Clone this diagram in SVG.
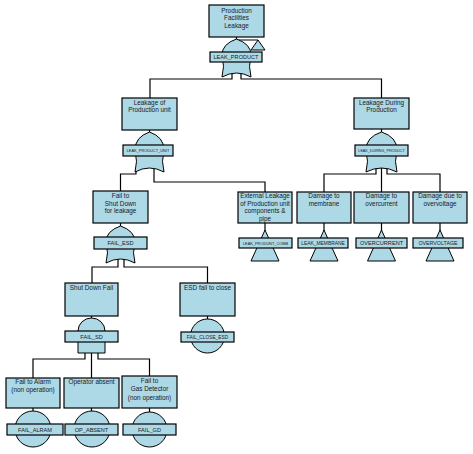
<svg xmlns="http://www.w3.org/2000/svg" width="473" height="454" viewBox="0 0 473 454">
<style>
.box{fill:#ADD8E6;stroke:#000;stroke-width:1.2}
.gate{fill:#ADD8E6;stroke:#000;stroke-width:1}
.lbl{fill:#ADD8E6;stroke:#000;stroke-width:1.2}
.conn{fill:none;stroke:#000;stroke-width:1.2}
text{font-family:"Liberation Sans",Arial,sans-serif;fill:#1a1a1a;text-anchor:middle}
.t{font-size:6.4px}
.g{font-size:5.6px}
</style>
<rect width="473" height="454" fill="#fff"/>
<g id="connectors" class="conn">
<path d="M236.5,37V40M236.5,40H258"/>
<path d="M232,73V79H150V98M241,73V79H381.5V98"/>
<path d="M149.5,130V132M381.5,129V132"/>
<path d="M136,171V174H120.5V191M154,169V182H265V192"/>
<path d="M376,168V174H324V192M381.5,168V192M387,168V174H440V192"/>
<path d="M120.5,223V226"/>
<path d="M118,259V267H92V283M124,259V267H207.5V283"/>
<path d="M265,223V231M324,223V231M381.5,223V231M440,223V231"/>
<path d="M91.5,316V318M207.5,316V319"/>
<path d="M85,353V359H33V378M91.5,353V378M98,353V359H149.5V376"/>
<path d="M33,408V411M91.5,408V411M149.5,408V412"/>
</g>
<g id="n_top">
<rect class="box" x="209" y="5" width="55" height="32"/>
<text class="t" x="236.5" y="12.5">Production</text>
<text class="t" x="236.5" y="20">Facilities</text>
<text class="t" x="236.5" y="27.5">Leakage</text>
<path class="gate" d="M222,77Q236.5,69 251,77Q248,67 251,55Q251,44 236.5,39Q222,44 222,55Q225,67 222,77Z"/>
<polygon class="gate" points="258,40 251,50 265,50"/>
<rect class="lbl" x="210" y="52" width="52" height="10"/>
<text class="g" x="236" y="59.2">LEAK_PRODUCT</text>
</g>
<g id="n_lpu">
<rect class="box" x="122" y="98" width="55" height="32"/>
<text class="t" x="149.5" y="104.5">Leakage of</text>
<text class="t" x="149.5" y="112">Production unit</text>
<path class="gate" d="M135,172Q149.5,164 164,172Q161,162 164,150Q164,137 149.5,132Q135,137 135,150Q138,162 135,172Z"/>
<rect class="lbl" x="123" y="145" width="50" height="11"/>
<text x="148" y="151.8" style="font-size:3.9px">LEAK_PRODUCT_UNIT</text>
</g>
<g id="n_ldp">
<rect class="box" x="354" y="98" width="55" height="31"/>
<text class="t" x="381.5" y="105">Leakage During</text>
<text class="t" x="381.5" y="112">Production</text>
<path class="gate" d="M366,172Q381.5,164 397,172Q394,162 397,150Q397,137 381.5,132Q366,137 366,150Q369,162 366,172Z"/>
<rect class="lbl" x="355" y="145" width="53" height="11"/>
<text x="381.5" y="151.8" style="font-size:3.7px">LEAK_DURING_PRODUCT</text>
</g>
<g id="n_fesd">
<rect class="box" x="93" y="191" width="55" height="32"/>
<text class="t" x="120.5" y="198">Fail to</text>
<text class="t" x="120.5" y="205.5">Shut Down</text>
<text class="t" x="120.5" y="213">for leakage</text>
<path class="gate" d="M106,263Q120.5,255 135,263Q132,253 135,242Q135,231 120.5,226Q106,231 106,242Q109,253 106,263Z"/>
<rect class="lbl" x="94" y="237" width="53" height="12"/>
<text class="g" x="120.5" y="245">FAIL_ESD</text>
</g>
<g id="n_ext">
<rect class="box" x="238" y="192" width="54" height="31"/>
<text class="t" x="265" y="198">External Leakage</text>
<text class="t" x="265" y="205.5">of Production unit</text>
<text class="t" x="265" y="213">components &amp;</text>
<text class="t" x="265" y="220.5">pipe</text>
<polygon class="gate" points="265,230 251,261 279,261"/>
<rect class="lbl" x="239" y="238" width="53" height="10"/>
<text x="265.5" y="244.6" style="font-size:3.9px">LEAK_PRODUNT_COMB</text>
</g>
<g id="n_mem">
<rect class="box" x="297" y="192" width="54" height="31"/>
<text class="t" x="324" y="198">Damage to</text>
<text class="t" x="324" y="205.5">membrane</text>
<polygon class="gate" points="324,230 310,261 338,261"/>
<rect class="lbl" x="298" y="238" width="50" height="10"/>
<text x="323" y="245" style="font-size:4.9px">LEAK_MEMBRANE</text>
</g>
<g id="n_ovc">
<rect class="box" x="354" y="192" width="55" height="31"/>
<text class="t" x="381.5" y="198">Damage to</text>
<text class="t" x="381.5" y="205.5">overcurrent</text>
<polygon class="gate" points="381.5,230 367.5,261 395.5,261"/>
<rect class="lbl" x="356" y="238" width="51" height="10"/>
<text class="g" x="381.5" y="245">OVERCURRENT</text>
</g>
<g id="n_ovv">
<rect class="box" x="413" y="192" width="54" height="31"/>
<text class="t" x="440" y="198">Damage due to</text>
<text class="t" x="440" y="205.5">overvoltage</text>
<polygon class="gate" points="440,230 426,261 454,261"/>
<rect class="lbl" x="413" y="238" width="50" height="10"/>
<text x="438" y="245" style="font-size:5.3px">OVERVOLTAGE</text>
</g>
<g id="n_sdf">
<rect class="box" x="65" y="283" width="53" height="33"/>
<text class="t" x="91.5" y="290">Shut Down Fail</text>
<path class="gate" d="M78,353V331A13.5,13 0 0 1 105,331V353Z"/>
<rect class="lbl" x="65" y="331" width="53" height="11"/>
<text class="g" x="91.5" y="338.5">FAIL_SD</text>
</g>
<g id="n_esd">
<rect class="box" x="180" y="283" width="55" height="33"/>
<text class="t" x="207.5" y="290">ESD fail to close</text>
<circle class="gate" cx="207.5" cy="336" r="17"/>
<rect class="lbl" x="181" y="332" width="53" height="10"/>
<text x="207.5" y="338.8" style="font-size:4.8px">FAIL_CLOSE_ESD</text>
</g>
<g id="n_alarm">
<rect class="box" x="6" y="378" width="54" height="30"/>
<text class="t" x="33" y="384">Fail to Alarm</text>
<text class="t" x="33" y="391.5">(non operation)</text>
<circle class="gate" cx="33" cy="429" r="18"/>
<rect class="lbl" x="7" y="424" width="56" height="11"/>
<text class="g" x="35" y="431.5">FAIL_ALRAM</text>
</g>
<g id="n_op">
<rect class="box" x="64" y="378" width="55" height="30"/>
<text class="t" x="91.5" y="384">Operator absent</text>
<circle class="gate" cx="92" cy="429" r="18"/>
<rect class="lbl" x="65" y="424" width="53" height="11"/>
<text class="g" x="91.5" y="431.5">OP_ABSENT</text>
</g>
<g id="n_gd">
<rect class="box" x="122" y="376" width="55" height="32"/>
<text class="t" x="149.5" y="383">Fail to</text>
<text class="t" x="149.5" y="391">Gas Detector</text>
<text class="t" x="149.5" y="400">(non operation)</text>
<circle class="gate" cx="149.5" cy="429.5" r="17.5"/>
<rect class="lbl" x="123" y="424" width="53" height="11"/>
<text class="g" x="149.5" y="431.5">FAIL_GD</text>
</g>
</svg>
